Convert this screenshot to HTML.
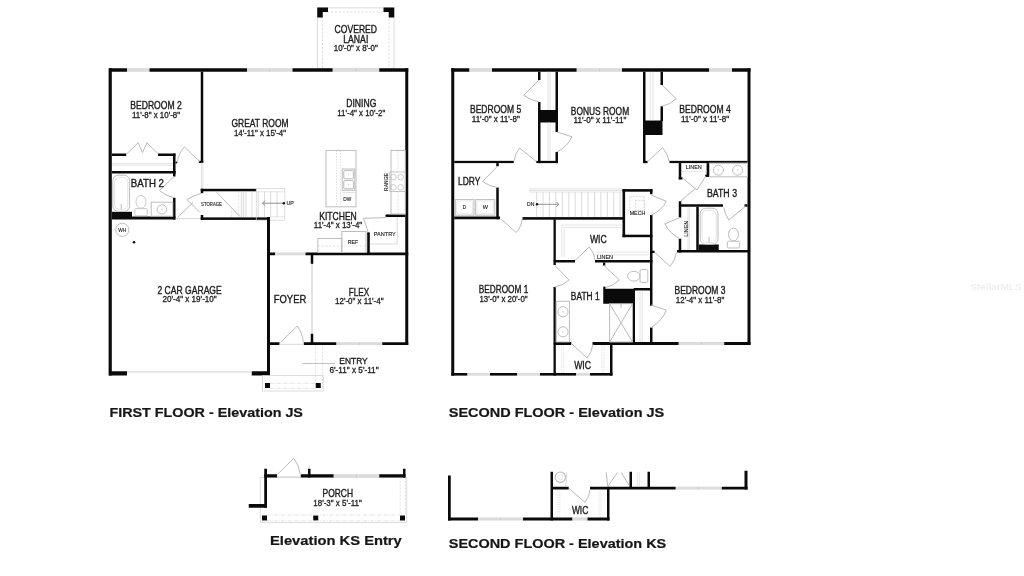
<!DOCTYPE html>
<html><head><meta charset="utf-8"><title>Floor Plan</title>
<style>
html,body{margin:0;padding:0;background:#fff;}
body{width:1024px;height:576px;overflow:hidden;font-family:"Liberation Sans",sans-serif;}
svg{display:block;font-family:"Liberation Sans",sans-serif;filter:blur(0.35px);}
</style></head><body>
<svg width="1024" height="576" viewBox="0 0 1024 576">
<rect width="1024" height="576" fill="#ffffff"/>
<rect x="317.60" y="7.90" width="76.40" height="60.40" rx="0" stroke="#d4d4d4" stroke-width="0.8" fill="none"/>
<path d="M322.5 68 V12 H389 V68" stroke="#cfcfcf" stroke-width="0.7" fill="none" stroke-dasharray="2.2 1.6"/>
<path d="M317.25 7.5 H328 V12 H322.75 V17.5 H317.25 Z" stroke="none" stroke-width="0.8" fill="#0a0a0a"/>
<path d="M394.25 7.5 H383.5 V12 H388.75 V17.5 H394.25 Z" stroke="none" stroke-width="0.8" fill="#0a0a0a"/>
<rect x="109.00" y="68.25" width="18.00" height="3.50" fill="#0a0a0a"/>
<rect x="127.00" y="68.15" width="22.50" height="3.70" fill="#dcdcdc"/>
<rect x="149.50" y="68.25" width="97.50" height="3.50" fill="#0a0a0a"/>
<rect x="247.00" y="68.15" width="45.50" height="3.70" fill="#dcdcdc"/>
<rect x="292.50" y="68.25" width="40.25" height="3.50" fill="#0a0a0a"/>
<rect x="332.75" y="68.15" width="46.50" height="3.70" fill="#dcdcdc"/>
<rect x="379.25" y="68.25" width="29.00" height="3.50" fill="#0a0a0a"/>
<path d="M269.7 68.6 V71.4 M356 68.6 V71.4" stroke="#bdbdbd" stroke-width="0.6" fill="none"/>
<rect x="108.60" y="68.25" width="3.20" height="307.25" fill="#0a0a0a"/>
<rect x="405.25" y="68.25" width="3.00" height="276.75" fill="#0a0a0a"/>
<rect x="200.75" y="71.75" width="2.50" height="91.25" fill="#0a0a0a"/>
<rect x="198.80" y="160.80" width="4.45" height="2.20" fill="#0a0a0a"/>
<rect x="201.30" y="163.00" width="1.60" height="26.00" rx="0" stroke="#d0d0d0" stroke-width="0.6" fill="none"/>
<rect x="112.00" y="153.50" width="14.25" height="2.50" fill="#0a0a0a"/>
<rect x="158.00" y="153.50" width="17.50" height="2.50" fill="#0a0a0a"/>
<rect x="173.00" y="153.50" width="2.50" height="20.00" fill="#0a0a0a"/>
<rect x="175.50" y="161.60" width="1.80" height="1.80" fill="#0a0a0a"/>
<path d="M112 163.6 H173 M112 165.2 H173" stroke="#d0d0d0" stroke-width="0.6" fill="none"/>
<path d="M126.9 153.75 L138.1 142.8 L142.5 152.5 L146.9 142.8 L158.1 153.75" stroke="#bababa" stroke-width="1.0" fill="none"/>
<rect x="112.00" y="171.00" width="63.50" height="2.50" fill="#0a0a0a"/>
<rect x="173.00" y="171.00" width="2.50" height="5.50" fill="#0a0a0a"/>
<rect x="173.00" y="197.75" width="2.50" height="21.75" fill="#0a0a0a"/>
<rect x="112.00" y="216.50" width="63.50" height="3.00" fill="#0a0a0a"/>
<rect x="112.00" y="211.80" width="20.00" height="5.20" fill="#0a0a0a"/>
<rect x="112.80" y="175.20" width="16.80" height="36.20" rx="5.5" stroke="#bababa" stroke-width="0.95" fill="none"/>
<rect x="114.60" y="177.40" width="13.20" height="32.00" rx="5" stroke="#d6d6d6" stroke-width="0.7" fill="none"/>
<path d="M121.2 204 V209" stroke="#bababa" stroke-width="1.0" fill="none"/>
<ellipse cx="141" cy="201.8" rx="5" ry="6.4" stroke="#bababa" stroke-width="0.8" fill="#fff"/>
<rect x="134.80" y="208.60" width="12.40" height="7.20" rx="1.2" stroke="#bababa" stroke-width="0.8" fill="#fff"/>
<rect x="151.20" y="202.20" width="21.60" height="14.00" rx="0" stroke="#bababa" stroke-width="0.95" fill="none"/>
<circle cx="161.9" cy="209.4" r="4.7" stroke="#bababa" stroke-width="0.95" fill="none"/>
<circle cx="161.9" cy="209.4" r="0.6" stroke="#bababa" stroke-width="0.5" fill="none"/>
<path d="M174 176.5 L159.5 190.5 Q166 196.5 174 197.5" stroke="#bababa" stroke-width="1.0" fill="none"/>
<path d="M199.5 161.5 L184.5 147 Q178.5 153 177.5 161.5" stroke="#bababa" stroke-width="1.0" fill="none"/>
<path d="M175.5 218.6 H200.75" stroke="#cfcfcf" stroke-width="0.8" fill="none"/>
<path d="M177.5 217.5 L193 202.5 M187 199.5 L200 212.5 M187 199.5 Q194 195 201 193.5" stroke="#bababa" stroke-width="1.0" fill="none"/>
<rect x="200.75" y="188.80" width="55.50" height="2.50" fill="#0a0a0a"/>
<rect x="200.75" y="188.80" width="2.50" height="4.40" fill="#0a0a0a"/>
<rect x="200.75" y="215.00" width="2.50" height="4.90" fill="#0a0a0a"/>
<rect x="200.75" y="217.40" width="69.25" height="2.50" fill="#0a0a0a"/>
<rect x="256.25" y="188.60" width="28.55" height="31.60" rx="0" stroke="#d0d0d0" stroke-width="0.7" fill="none"/>
<path d="M256.25 191.8 H284.8 M270 216.8 H284.8" stroke="#d0d0d0" stroke-width="0.6" fill="none"/>
<path d="M216.7 192.3 L239.7 216.3" stroke="#bababa" stroke-width="1.0" fill="none"/>
<path d="M231.3 207.5 V216.8 M238.7 191.8 V214.5" stroke="#d0d0d0" stroke-width="0.6" fill="none" stroke-dasharray="2 1.5"/>
<path d="M241.4 191.5 V217 M243.6 191.5 V217 M246 191.5 V217" stroke="#cdcdcd" stroke-width="0.7" fill="none"/>
<path d="M252 191.5 V217 M258.2 191.5 V217 M264.5 191.5 V217 M270.7 191.5 V217 M277 191.5 V217" stroke="#cdcdcd" stroke-width="0.7" fill="none"/>
<path d="M283.8 203.2 H262.5 M265 200.7 L262.5 203.2 L265 205.7" stroke="#777" stroke-width="0.8" fill="none"/>
<circle cx="283.9" cy="203.2" r="1.2" stroke="none" stroke-width="0.8" fill="#111"/>
<text x="290.20" y="205.00" font-size="4.75" text-anchor="middle" textLength="7.40" lengthAdjust="spacingAndGlyphs" font-weight="normal" fill="#1c1c1c" stroke="#1c1c1c" stroke-width="0.119">UP</text>
<text x="211.50" y="205.88" font-size="5.24" text-anchor="middle" textLength="20.80" lengthAdjust="spacingAndGlyphs" font-weight="normal" fill="#1c1c1c" stroke="#1c1c1c" stroke-width="0.131">STORAGE</text>
<rect x="267.00" y="217.00" width="3.00" height="158.50" fill="#0a0a0a"/>
<rect x="109.00" y="371.25" width="18.00" height="4.25" fill="#0a0a0a"/>
<rect x="251.75" y="371.25" width="18.25" height="4.25" fill="#0a0a0a"/>
<path d="M127 371.9 H251.75" stroke="#c6c6c6" stroke-width="0.8" fill="none"/>
<circle cx="122.3" cy="229.8" r="6.6" stroke="#bababa" stroke-width="0.95" fill="none"/>
<text x="122.30" y="231.60" font-size="4.75" text-anchor="middle" textLength="8.00" lengthAdjust="spacingAndGlyphs" font-weight="normal" fill="#1c1c1c" stroke="#1c1c1c" stroke-width="0.119">WH</text>
<circle cx="134" cy="242.3" r="1.3" stroke="none" stroke-width="0.8" fill="#111"/>
<rect x="270.00" y="252.50" width="5.00" height="2.75" fill="#0a0a0a"/>
<rect x="275.00" y="252.40" width="30.50" height="2.95" fill="#dcdcdc"/>
<rect x="305.50" y="252.50" width="102.75" height="2.75" fill="#0a0a0a"/>
<rect x="310.75" y="255.00" width="2.50" height="9.00" fill="#0a0a0a"/>
<rect x="311.30" y="264.00" width="1.40" height="69.75" rx="0" stroke="#d0d0d0" stroke-width="0.6" fill="none"/>
<rect x="310.75" y="333.75" width="2.50" height="11.25" fill="#0a0a0a"/>
<rect x="270.00" y="342.25" width="9.50" height="2.75" fill="#0a0a0a"/>
<rect x="303.75" y="342.25" width="32.75" height="2.75" fill="#0a0a0a"/>
<rect x="336.50" y="342.15" width="45.75" height="2.95" fill="#dcdcdc"/>
<rect x="382.25" y="342.25" width="26.00" height="2.75" fill="#0a0a0a"/>
<path d="M359.3 342.6 V344.7" stroke="#bdbdbd" stroke-width="0.6" fill="none"/>
<path d="M279.5 344.3 H303.75" stroke="#cfcfcf" stroke-width="0.8" fill="none"/>
<path d="M280.5 342.3 L297.3 326 Q302.5 333 303.3 342.3" stroke="#bababa" stroke-width="1.0" fill="none"/>
<path d="M386.8 215.75 H405.25" stroke="#0a0a0a" stroke-width="2.6" fill="none"/>
<circle cx="386.6" cy="215.75" r="1.3" stroke="none" stroke-width="0.8" fill="#0a0a0a"/>
<path d="M368.5 233.5 V254" stroke="#0a0a0a" stroke-width="2.6" fill="none"/>
<circle cx="368.5" cy="233.4" r="1.3" stroke="none" stroke-width="0.8" fill="#0a0a0a"/>
<path d="M397.2 217.5 V244 H369.8" stroke="#d0d0d0" stroke-width="0.8" fill="none"/>
<path d="M386 217.6 L363.5 218.3 L368.3 232.5" stroke="#bababa" stroke-width="1.0" fill="none"/>
<text x="384.80" y="235.75" font-size="4.89" text-anchor="middle" textLength="22.00" lengthAdjust="spacingAndGlyphs" font-weight="normal" fill="#1c1c1c" stroke="#1c1c1c" stroke-width="0.123">PANTRY</text>
<rect x="326.00" y="150.40" width="30.00" height="56.40" rx="0" stroke="#bababa" stroke-width="0.95" fill="none"/>
<path d="M336.5 150.4 V206.8 M340.5 150.4 V206.8" stroke="#cfcfcf" stroke-width="0.6" fill="none" stroke-dasharray="1.6 1.2"/>
<rect x="342.30" y="169.00" width="12.50" height="21.30" rx="0" stroke="#bababa" stroke-width="0.95" fill="none"/>
<rect x="343.80" y="170.60" width="9.60" height="8.20" rx="0.8" stroke="#bababa" stroke-width="1.0" fill="none"/>
<rect x="343.80" y="180.60" width="9.60" height="8.20" rx="0.8" stroke="#bababa" stroke-width="1.0" fill="none"/>
<circle cx="348.6" cy="174.8" r="0.5" stroke="#bababa" stroke-width="0.5" fill="none"/>
<circle cx="348.6" cy="184.8" r="0.5" stroke="#bababa" stroke-width="0.5" fill="none"/>
<path d="M342.3 192.5 H356" stroke="#d0d0d0" stroke-width="0.6" fill="none"/>
<text x="347.30" y="200.70" font-size="4.75" text-anchor="middle" textLength="8.00" lengthAdjust="spacingAndGlyphs" font-weight="normal" fill="#1c1c1c" stroke="#1c1c1c" stroke-width="0.119">DW</text>
<rect x="391.00" y="150.40" width="14.30" height="63.60" rx="0" stroke="#bababa" stroke-width="0.95" fill="none"/>
<path d="M398 150.4 V172 M398 191.5 V214" stroke="#cfcfcf" stroke-width="0.6" fill="none" stroke-dasharray="2 1.4"/>
<rect x="389.80" y="172.00" width="15.50" height="19.50" rx="0" stroke="#b8b8b8" stroke-width="0.8" fill="none"/>
<circle cx="393.4" cy="177.1" r="2.8" stroke="#b8b8b8" stroke-width="0.7" fill="none"/>
<circle cx="400.6" cy="177.1" r="2.8" stroke="#b8b8b8" stroke-width="0.7" fill="none"/>
<circle cx="393.4" cy="187.3" r="2.8" stroke="#b8b8b8" stroke-width="0.7" fill="none"/>
<circle cx="400.6" cy="187.3" r="2.8" stroke="#b8b8b8" stroke-width="0.7" fill="none"/>
<text x="386.30" y="183.60" font-size="4.47" text-anchor="middle" textLength="18.00" lengthAdjust="spacingAndGlyphs" font-weight="normal" fill="#1c1c1c" stroke="#1c1c1c" stroke-width="0.112" transform="rotate(-90 386.3 182)">RANGE</text>
<rect x="341.80" y="231.50" width="24.20" height="21.00" rx="0" stroke="#bababa" stroke-width="0.95" fill="none"/>
<rect x="317.80" y="238.50" width="24.00" height="14.00" rx="0" stroke="#bababa" stroke-width="0.95" fill="none"/>
<path d="M317.8 246 H366" stroke="#cfcfcf" stroke-width="0.6" fill="none" stroke-dasharray="2.2 1.6"/>
<text x="353.00" y="244.05" font-size="4.89" text-anchor="middle" textLength="10.50" lengthAdjust="spacingAndGlyphs" font-weight="normal" fill="#1c1c1c" stroke="#1c1c1c" stroke-width="0.123">REF</text>
<rect x="262.60" y="375.50" width="60.60" height="15.50" rx="0" stroke="#d4d4d4" stroke-width="0.8" fill="none"/>
<rect x="265.00" y="383.00" width="5.00" height="5.00" fill="#0a0a0a"/>
<rect x="315.75" y="383.00" width="5.00" height="5.00" fill="#0a0a0a"/>
<path d="M315.75 345 V383 M322.5 345 V388" stroke="#cfcfcf" stroke-width="0.6" fill="none" stroke-dasharray="2 1.4"/>
<path d="M270 383.4 H315.75 M270 388.4 H315.75" stroke="#cfcfcf" stroke-width="0.6" fill="none" stroke-dasharray="3.5 1.2 1 1.2"/>
<path d="M302.5 363.5 H335" stroke="#9a9a9a" stroke-width="0.6" fill="none"/>
<text x="156.00" y="108.85" font-size="10.75" text-anchor="middle" textLength="51.50" lengthAdjust="spacingAndGlyphs" font-weight="normal" fill="#1c1c1c" stroke="#1c1c1c" stroke-width="0.385">BEDROOM 2</text>
<text x="156.00" y="118.00" font-size="8.38" text-anchor="middle" textLength="48.00" lengthAdjust="spacingAndGlyphs" font-weight="normal" fill="#1c1c1c" stroke="#1c1c1c" stroke-width="0.300">11'-8&quot; x 10'-8&quot;</text>
<text x="260.00" y="126.85" font-size="10.75" text-anchor="middle" textLength="57.00" lengthAdjust="spacingAndGlyphs" font-weight="normal" fill="#1c1c1c" stroke="#1c1c1c" stroke-width="0.385">GREAT ROOM</text>
<text x="260.00" y="135.50" font-size="8.38" text-anchor="middle" textLength="52.00" lengthAdjust="spacingAndGlyphs" font-weight="normal" fill="#1c1c1c" stroke="#1c1c1c" stroke-width="0.300">14'-11&quot; x 15'-4&quot;</text>
<text x="361.30" y="106.85" font-size="10.75" text-anchor="middle" textLength="30.00" lengthAdjust="spacingAndGlyphs" font-weight="normal" fill="#1c1c1c" stroke="#1c1c1c" stroke-width="0.385">DINING</text>
<text x="361.30" y="116.00" font-size="8.38" text-anchor="middle" textLength="48.00" lengthAdjust="spacingAndGlyphs" font-weight="normal" fill="#1c1c1c" stroke="#1c1c1c" stroke-width="0.300">11'-4&quot; x 10'-2&quot;</text>
<text x="355.80" y="32.85" font-size="10.75" text-anchor="middle" textLength="42.50" lengthAdjust="spacingAndGlyphs" font-weight="normal" fill="#1c1c1c" stroke="#1c1c1c" stroke-width="0.385">COVERED</text>
<text x="355.80" y="42.85" font-size="10.75" text-anchor="middle" textLength="25.00" lengthAdjust="spacingAndGlyphs" font-weight="normal" fill="#1c1c1c" stroke="#1c1c1c" stroke-width="0.385">LANAI</text>
<text x="355.80" y="51.30" font-size="8.38" text-anchor="middle" textLength="44.00" lengthAdjust="spacingAndGlyphs" font-weight="normal" fill="#1c1c1c" stroke="#1c1c1c" stroke-width="0.300">10'-0&quot; x 8'-0&quot;</text>
<text x="147.40" y="186.90" font-size="10.06" text-anchor="middle" textLength="33.20" lengthAdjust="spacingAndGlyphs" font-weight="normal" fill="#1c1c1c" stroke="#1c1c1c" stroke-width="0.360">BATH 2</text>
<text x="338.00" y="220.00" font-size="11.17" text-anchor="middle" textLength="37.50" lengthAdjust="spacingAndGlyphs" font-weight="normal" fill="#1c1c1c" stroke="#1c1c1c" stroke-width="0.400">KITCHEN</text>
<text x="338.00" y="228.40" font-size="8.66" text-anchor="middle" textLength="48.30" lengthAdjust="spacingAndGlyphs" font-weight="normal" fill="#1c1c1c" stroke="#1c1c1c" stroke-width="0.310">11'-4&quot; x 13'-4&quot;</text>
<text x="189.60" y="293.85" font-size="10.75" text-anchor="middle" textLength="64.30" lengthAdjust="spacingAndGlyphs" font-weight="normal" fill="#1c1c1c" stroke="#1c1c1c" stroke-width="0.385">2 CAR GARAGE</text>
<text x="189.60" y="301.60" font-size="8.38" text-anchor="middle" textLength="54.30" lengthAdjust="spacingAndGlyphs" font-weight="normal" fill="#1c1c1c" stroke="#1c1c1c" stroke-width="0.300">20'-4&quot; x 19'-10&quot;</text>
<text x="290.00" y="303.10" font-size="10.61" text-anchor="middle" textLength="32.50" lengthAdjust="spacingAndGlyphs" font-weight="normal" fill="#1c1c1c" stroke="#1c1c1c" stroke-width="0.380">FOYER</text>
<text x="359.00" y="295.60" font-size="10.61" text-anchor="middle" textLength="20.50" lengthAdjust="spacingAndGlyphs" font-weight="normal" fill="#1c1c1c" stroke="#1c1c1c" stroke-width="0.380">FLEX</text>
<text x="359.30" y="303.60" font-size="8.38" text-anchor="middle" textLength="48.50" lengthAdjust="spacingAndGlyphs" font-weight="normal" fill="#1c1c1c" stroke="#1c1c1c" stroke-width="0.300">12'-0&quot; x 11'-4&quot;</text>
<text x="353.50" y="364.35" font-size="9.64" text-anchor="middle" textLength="28.30" lengthAdjust="spacingAndGlyphs" font-weight="normal" fill="#1c1c1c" stroke="#1c1c1c" stroke-width="0.345">ENTRY</text>
<text x="354.00" y="373.35" font-size="8.24" text-anchor="middle" textLength="49.20" lengthAdjust="spacingAndGlyphs" font-weight="normal" fill="#1c1c1c" stroke="#1c1c1c" stroke-width="0.295">6'-11&quot; x 5'-11&quot;</text>
<text x="206.20" y="417.15" font-size="12.71" text-anchor="middle" textLength="193.50" lengthAdjust="spacingAndGlyphs" font-weight="bold" fill="#161616" stroke="#161616" stroke-width="0.200">FIRST FLOOR - Elevation JS</text>
<rect x="451.25" y="68.25" width="18.25" height="3.50" fill="#0a0a0a"/>
<rect x="469.50" y="68.15" width="22.50" height="3.70" fill="#dcdcdc"/>
<rect x="492.00" y="68.25" width="84.75" height="3.50" fill="#0a0a0a"/>
<rect x="576.75" y="68.15" width="45.25" height="3.70" fill="#dcdcdc"/>
<rect x="622.00" y="68.25" width="87.25" height="3.50" fill="#0a0a0a"/>
<rect x="709.25" y="68.15" width="22.75" height="3.70" fill="#dcdcdc"/>
<rect x="732.00" y="68.25" width="18.50" height="3.50" fill="#0a0a0a"/>
<path d="M599.4 68.6 V71.4" stroke="#bdbdbd" stroke-width="0.6" fill="none"/>
<rect x="451.25" y="68.25" width="3.00" height="307.35" fill="#0a0a0a"/>
<rect x="747.50" y="68.25" width="3.00" height="276.75" fill="#0a0a0a"/>
<rect x="451.25" y="373.00" width="16.25" height="2.60" fill="#0a0a0a"/>
<rect x="467.50" y="372.90" width="22.50" height="2.80" fill="#dcdcdc"/>
<rect x="490.00" y="373.00" width="27.00" height="2.60" fill="#0a0a0a"/>
<rect x="517.00" y="372.90" width="23.00" height="2.80" fill="#dcdcdc"/>
<rect x="540.00" y="373.00" width="36.25" height="2.60" fill="#0a0a0a"/>
<rect x="576.25" y="372.90" width="13.75" height="2.80" fill="#dcdcdc"/>
<rect x="590.00" y="373.00" width="22.50" height="2.60" fill="#0a0a0a"/>
<rect x="592.50" y="342.00" width="86.25" height="3.00" fill="#0a0a0a"/>
<rect x="678.75" y="341.90" width="45.50" height="3.20" fill="#dcdcdc"/>
<rect x="724.25" y="342.00" width="26.25" height="3.00" fill="#0a0a0a"/>
<path d="M701.5 342.4 V344.6" stroke="#bdbdbd" stroke-width="0.6" fill="none"/>
<rect x="610.00" y="343.00" width="2.50" height="32.60" fill="#0a0a0a"/>
<rect x="538.00" y="71.75" width="2.50" height="8.25" fill="#0a0a0a"/>
<rect x="538.00" y="102.00" width="2.50" height="61.10" fill="#0a0a0a"/>
<rect x="555.50" y="71.75" width="2.50" height="60.25" fill="#0a0a0a"/>
<rect x="555.50" y="152.00" width="2.50" height="11.10" fill="#0a0a0a"/>
<rect x="538.75" y="110.00" width="18.75" height="12.50" fill="#0a0a0a"/>
<rect x="536.25" y="160.85" width="21.75" height="2.25" fill="#0a0a0a"/>
<path d="M548 71.75 V110 M550 71.75 V110 M548 122.5 V160 M550 122.5 V160" stroke="#d2d2d2" stroke-width="0.6" fill="none"/>
<rect x="454.25" y="160.85" width="59.50" height="2.25" fill="#0a0a0a"/>
<path d="M539 80 L523.7 95.3 Q531 100.5 539 102" stroke="#bababa" stroke-width="1.0" fill="none"/>
<path d="M557 132 L572 136.8 Q568 146 557 152" stroke="#bababa" stroke-width="1.0" fill="none"/>
<path d="M536.3 161.5 L519.7 148.2 Q514.5 153.7 514.2 160.8" stroke="#bababa" stroke-width="1.0" fill="none"/>
<rect x="496.25" y="163.10" width="2.50" height="3.10" fill="#0a0a0a"/>
<rect x="496.25" y="187.50" width="2.50" height="31.75" fill="#0a0a0a"/>
<rect x="454.25" y="216.50" width="45.75" height="2.75" fill="#0a0a0a"/>
<path d="M497.5 166.2 L482.5 181.5 Q489.5 186.5 497.5 187.5" stroke="#bababa" stroke-width="1.0" fill="none"/>
<rect x="455.30" y="199.60" width="18.70" height="15.60" rx="0" stroke="#bababa" stroke-width="0.95" fill="none"/>
<rect x="475.60" y="199.60" width="19.20" height="15.60" rx="0" stroke="#bababa" stroke-width="0.95" fill="none"/>
<rect x="456.80" y="201.00" width="15.80" height="12.80" rx="0" stroke="#dcdcdc" stroke-width="0.6" fill="none"/>
<rect x="477.00" y="201.00" width="16.40" height="12.80" rx="0" stroke="#dcdcdc" stroke-width="0.6" fill="none"/>
<text x="464.40" y="209.15" font-size="5.17" text-anchor="middle" textLength="3.30" lengthAdjust="spacingAndGlyphs" font-weight="normal" fill="#1c1c1c" stroke="#1c1c1c" stroke-width="0.130">D</text>
<text x="485.40" y="209.15" font-size="5.17" text-anchor="middle" textLength="5.20" lengthAdjust="spacingAndGlyphs" font-weight="normal" fill="#1c1c1c" stroke="#1c1c1c" stroke-width="0.130">W</text>
<path d="M501.2 219.3 L516.2 232.5 Q521.3 227 522.2 219" stroke="#bababa" stroke-width="1.0" fill="none"/>
<rect x="522.50" y="217.10" width="101.25" height="2.60" fill="#0a0a0a"/>
<path d="M530 188.9 H622.5 M530 190.5 H622.5 M530 192.1 H622.5 M530 188.9 V192.1" stroke="#d0d0d0" stroke-width="0.6" fill="none"/>
<path d="M536.60 192.1 V217.1 M543.03 192.1 V217.1 M549.46 192.1 V217.1 M555.89 192.1 V217.1 M562.32 192.1 V217.1 M568.75 192.1 V217.1 M575.18 192.1 V217.1 M581.61 192.1 V217.1 M588.04 192.1 V217.1 M594.47 192.1 V217.1 M600.90 192.1 V217.1 M607.33 192.1 V217.1 M613.76 192.1 V217.1 M620.19 192.1 V217.1 " stroke="#cdcdcd" stroke-width="0.7" fill="none"/>
<path d="M537 204.3 H558.6 M556.2 201.8 L558.7 204.3 L556.2 206.8" stroke="#777" stroke-width="0.8" fill="none"/>
<circle cx="537" cy="204.3" r="1.2" stroke="none" stroke-width="0.8" fill="#111"/>
<text x="530.70" y="205.95" font-size="4.61" text-anchor="middle" textLength="7.40" lengthAdjust="spacingAndGlyphs" font-weight="normal" fill="#1c1c1c" stroke="#1c1c1c" stroke-width="0.116">DN</text>
<rect x="622.50" y="189.10" width="30.00" height="2.60" fill="#0a0a0a"/>
<rect x="622.50" y="189.10" width="2.60" height="48.10" fill="#0a0a0a"/>
<rect x="622.50" y="234.70" width="30.00" height="2.50" fill="#0a0a0a"/>
<rect x="650.00" y="189.10" width="2.50" height="5.10" fill="#0a0a0a"/>
<rect x="650.00" y="215.00" width="2.50" height="90.80" fill="#0a0a0a"/>
<rect x="650.00" y="327.50" width="2.50" height="17.50" fill="#0a0a0a"/>
<rect x="629.90" y="196.50" width="14.50" height="13.90" rx="0" stroke="#d0d0d0" stroke-width="0.7" fill="none" stroke-dasharray="2 1"/>
<rect x="635.60" y="200.40" width="8.80" height="10.00" rx="0" stroke="#d0d0d0" stroke-width="0.7" fill="none" stroke-dasharray="2 1"/>
<text x="637.50" y="215.00" font-size="4.75" text-anchor="middle" textLength="15.60" lengthAdjust="spacingAndGlyphs" font-weight="normal" fill="#1c1c1c" stroke="#1c1c1c" stroke-width="0.119">MECH</text>
<path d="M651.2 195 L666.3 201.3 Q662 210.5 651.2 215" stroke="#bababa" stroke-width="1.0" fill="none"/>
<rect x="553.50" y="219.25" width="2.30" height="45.75" fill="#0a0a0a"/>
<rect x="553.50" y="287.00" width="2.30" height="88.60" fill="#0a0a0a"/>
<rect x="553.75" y="260.00" width="21.25" height="2.50" fill="#0a0a0a"/>
<rect x="595.00" y="260.00" width="57.50" height="2.50" fill="#0a0a0a"/>
<path d="M561.8 257 V225 H622.5 M564.2 257 V227.4 H622.5" stroke="#d2d2d2" stroke-width="0.6" fill="none"/>
<path d="M596.2 252.2 H649 M596.2 254.8 H649" stroke="#d2d2d2" stroke-width="0.6" fill="none"/>
<path d="M575 260.6 L589.2 247 Q594.3 252.5 595 260" stroke="#bababa" stroke-width="1.0" fill="none"/>
<text x="598.30" y="242.60" font-size="10.61" text-anchor="middle" textLength="16.80" lengthAdjust="spacingAndGlyphs" font-weight="normal" fill="#1c1c1c" stroke="#1c1c1c" stroke-width="0.380">WIC</text>
<text x="605.00" y="258.75" font-size="4.89" text-anchor="middle" textLength="16.00" lengthAdjust="spacingAndGlyphs" font-weight="normal" fill="#1c1c1c" stroke="#1c1c1c" stroke-width="0.123">LINEN</text>
<rect x="603.00" y="262.50" width="2.30" height="3.10" fill="#0a0a0a"/>
<path d="M555 265.5 L569 280 Q563 285.5 555 287" stroke="#bababa" stroke-width="1.0" fill="none"/>
<path d="M604 265.6 L619.5 280 Q613 286 604.5 288" stroke="#bababa" stroke-width="1.0" fill="none"/>
<rect x="603.25" y="288.75" width="30.75" height="15.00" fill="#0a0a0a"/>
<rect x="603.25" y="286.60" width="2.05" height="2.40" fill="#0a0a0a"/>
<rect x="633.75" y="288.00" width="17.50" height="2.50" fill="#0a0a0a"/>
<rect x="632.50" y="290.00" width="2.50" height="53.00" fill="#0a0a0a"/>
<rect x="553.75" y="342.00" width="17.50" height="3.00" fill="#0a0a0a"/>
<rect x="640.00" y="269.60" width="7.80" height="12.80" rx="1.2" stroke="#bababa" stroke-width="0.95" fill="none"/>
<ellipse cx="633.8" cy="276.2" rx="6.2" ry="4.9" stroke="#bababa" stroke-width="0.95" fill="none"/>
<rect x="556.25" y="301.30" width="13.15" height="40.70" rx="0" stroke="#bababa" stroke-width="0.95" fill="none"/>
<circle cx="563" cy="311.8" r="5.1" stroke="#bababa" stroke-width="0.95" fill="none"/>
<circle cx="563" cy="331.8" r="5.1" stroke="#bababa" stroke-width="0.95" fill="none"/>
<circle cx="563" cy="311.8" r="0.5" stroke="#bababa" stroke-width="0.5" fill="none"/>
<circle cx="563" cy="331.8" r="0.5" stroke="#bababa" stroke-width="0.5" fill="none"/>
<rect x="609.60" y="303.75" width="22.90" height="38.25" rx="0" stroke="#bababa" stroke-width="0.95" fill="none"/>
<path d="M609.6 303.75 L632.5 342 M632.5 303.75 L609.6 342 M621 303.75 V308" stroke="#bababa" stroke-width="1.0" fill="none"/>
<path d="M640 290.5 V342 M642.2 290.5 V342" stroke="#d2d2d2" stroke-width="0.6" fill="none"/>
<path d="M651.2 305 L666.3 310 Q663 320 651.2 327.5" stroke="#bababa" stroke-width="1.0" fill="none"/>
<path d="M571.6 343.8 L587.2 358.1 Q591.8 352 593 344.4" stroke="#bababa" stroke-width="1.0" fill="none"/>
<path d="M561.8 345 V373 M563.8 345 V373 M602 345 V373 M604 345 V373" stroke="#d2d2d2" stroke-width="0.6" fill="none" stroke-dasharray="1.4 1"/>
<text x="582.60" y="368.80" font-size="10.61" text-anchor="middle" textLength="16.80" lengthAdjust="spacingAndGlyphs" font-weight="normal" fill="#1c1c1c" stroke="#1c1c1c" stroke-width="0.380">WIC</text>
<rect x="643.00" y="71.75" width="2.50" height="91.35" fill="#0a0a0a"/>
<rect x="643.00" y="160.85" width="4.60" height="2.25" fill="#0a0a0a"/>
<rect x="660.50" y="71.75" width="2.50" height="13.25" fill="#0a0a0a"/>
<rect x="660.50" y="106.25" width="2.50" height="14.75" fill="#0a0a0a"/>
<rect x="643.75" y="120.50" width="18.75" height="14.50" fill="#0a0a0a"/>
<path d="M650.2 71.75 V120.5 M653 71.75 V120.5" stroke="#d2d2d2" stroke-width="0.6" fill="none"/>
<path d="M662 85 L676.2 98.8 Q670.5 104.5 662 106.2" stroke="#bababa" stroke-width="1.0" fill="none"/>
<path d="M647.6 161.7 L662.5 147.7 Q668 153.7 669 161.2" stroke="#bababa" stroke-width="1.0" fill="none"/>
<rect x="669.50" y="160.85" width="78.00" height="2.25" fill="#0a0a0a"/>
<rect x="678.75" y="163.10" width="2.50" height="16.30" fill="#0a0a0a"/>
<rect x="678.75" y="177.00" width="3.85" height="2.40" fill="#0a0a0a"/>
<rect x="706.60" y="163.10" width="2.50" height="13.70" fill="#0a0a0a"/>
<rect x="705.20" y="174.60" width="3.90" height="2.20" fill="#0a0a0a"/>
<path d="M681.25 171.6 H707" stroke="#d6d6d6" stroke-width="0.6" fill="none"/>
<path d="M681.5 177.2 L697 190 L705.5 176.5" stroke="#bababa" stroke-width="1.0" fill="none"/>
<text x="693.80" y="169.35" font-size="4.89" text-anchor="middle" textLength="16.00" lengthAdjust="spacingAndGlyphs" font-weight="normal" fill="#1c1c1c" stroke="#1c1c1c" stroke-width="0.123">LINEN</text>
<rect x="709.50" y="163.10" width="38.00" height="13.70" rx="0" stroke="#bababa" stroke-width="0.95" fill="none"/>
<circle cx="718.4" cy="170.2" r="5.0" stroke="#bababa" stroke-width="0.95" fill="none"/>
<circle cx="737.6" cy="170.2" r="5.0" stroke="#bababa" stroke-width="0.95" fill="none"/>
<circle cx="718.4" cy="170.2" r="0.5" stroke="#bababa" stroke-width="0.5" fill="none"/>
<circle cx="737.6" cy="170.2" r="0.5" stroke="#bababa" stroke-width="0.5" fill="none"/>
<path d="M680.5 201.3 L696 188" stroke="#bababa" stroke-width="1.0" fill="none"/>
<rect x="679.50" y="204.25" width="43.50" height="2.50" fill="#0a0a0a"/>
<rect x="744.50" y="204.25" width="3.00" height="2.50" fill="#0a0a0a"/>
<rect x="678.75" y="201.25" width="2.50" height="16.25" fill="#0a0a0a"/>
<rect x="678.75" y="238.75" width="2.50" height="13.75" fill="#0a0a0a"/>
<rect x="696.25" y="206.75" width="2.50" height="43.25" fill="#0a0a0a"/>
<rect x="698.75" y="244.50" width="20.00" height="6.00" fill="#0a0a0a"/>
<rect x="677.00" y="250.00" width="71.75" height="2.50" fill="#0a0a0a"/>
<path d="M688 206.75 V250 M689.6 206.75 V250" stroke="#d2d2d2" stroke-width="0.6" fill="none"/>
<path d="M680 217.5 L664.8 223.8 Q669.5 233.5 680 238.75" stroke="#bababa" stroke-width="1.0" fill="none"/>
<text x="685.80" y="230.55" font-size="4.89" text-anchor="middle" textLength="16.00" lengthAdjust="spacingAndGlyphs" font-weight="normal" fill="#1c1c1c" stroke="#1c1c1c" stroke-width="0.123" transform="rotate(-90 685.8 228.8)">LINEN</text>
<rect x="700.20" y="208.20" width="17.80" height="36.10" rx="5.5" stroke="#bababa" stroke-width="0.95" fill="none"/>
<rect x="702.00" y="210.20" width="14.20" height="32.20" rx="5" stroke="#d6d6d6" stroke-width="0.7" fill="none"/>
<path d="M709 237 V242.4" stroke="#bababa" stroke-width="1.0" fill="none"/>
<path d="M745.6 206.2 L728.8 220 Q724.5 213.5 723.8 207.5" stroke="#bababa" stroke-width="1.0" fill="none"/>
<ellipse cx="733.5" cy="234.5" rx="5" ry="6.4" stroke="#bababa" stroke-width="0.95" fill="none"/>
<rect x="727.40" y="241.20" width="12.20" height="6.80" rx="1.2" stroke="#bababa" stroke-width="0.95" fill="none"/>
<rect x="651.25" y="250.75" width="3.35" height="2.25" fill="#0a0a0a"/>
<path d="M654.8 252.6 L670 266.3 Q675.5 260.5 676.3 252.8" stroke="#bababa" stroke-width="1.0" fill="none"/>
<text x="495.60" y="113.15" font-size="10.75" text-anchor="middle" textLength="51.30" lengthAdjust="spacingAndGlyphs" font-weight="normal" fill="#1c1c1c" stroke="#1c1c1c" stroke-width="0.385">BEDROOM 5</text>
<text x="495.80" y="121.80" font-size="8.38" text-anchor="middle" textLength="48.00" lengthAdjust="spacingAndGlyphs" font-weight="normal" fill="#1c1c1c" stroke="#1c1c1c" stroke-width="0.300">11'-0&quot; x 11'-8&quot;</text>
<text x="600.00" y="114.65" font-size="10.75" text-anchor="middle" textLength="58.30" lengthAdjust="spacingAndGlyphs" font-weight="normal" fill="#1c1c1c" stroke="#1c1c1c" stroke-width="0.385">BONUS ROOM</text>
<text x="600.00" y="123.00" font-size="8.38" text-anchor="middle" textLength="53.00" lengthAdjust="spacingAndGlyphs" font-weight="normal" fill="#1c1c1c" stroke="#1c1c1c" stroke-width="0.300">11'-0&quot; x 11'-11&quot;</text>
<text x="705.00" y="113.15" font-size="10.75" text-anchor="middle" textLength="51.50" lengthAdjust="spacingAndGlyphs" font-weight="normal" fill="#1c1c1c" stroke="#1c1c1c" stroke-width="0.385">BEDROOM 4</text>
<text x="705.00" y="121.80" font-size="8.38" text-anchor="middle" textLength="48.00" lengthAdjust="spacingAndGlyphs" font-weight="normal" fill="#1c1c1c" stroke="#1c1c1c" stroke-width="0.300">11'-0&quot; x 11'-8&quot;</text>
<text x="469.20" y="184.85" font-size="10.75" text-anchor="middle" textLength="22.30" lengthAdjust="spacingAndGlyphs" font-weight="normal" fill="#1c1c1c" stroke="#1c1c1c" stroke-width="0.385">LDRY</text>
<text x="722.00" y="196.80" font-size="10.61" text-anchor="middle" textLength="30.00" lengthAdjust="spacingAndGlyphs" font-weight="normal" fill="#1c1c1c" stroke="#1c1c1c" stroke-width="0.380">BATH 3</text>
<text x="585.20" y="300.10" font-size="10.61" text-anchor="middle" textLength="28.80" lengthAdjust="spacingAndGlyphs" font-weight="normal" fill="#1c1c1c" stroke="#1c1c1c" stroke-width="0.380">BATH 1</text>
<text x="503.50" y="293.15" font-size="10.75" text-anchor="middle" textLength="49.50" lengthAdjust="spacingAndGlyphs" font-weight="normal" fill="#1c1c1c" stroke="#1c1c1c" stroke-width="0.385">BEDROOM 1</text>
<text x="503.50" y="301.80" font-size="8.38" text-anchor="middle" textLength="48.00" lengthAdjust="spacingAndGlyphs" font-weight="normal" fill="#1c1c1c" stroke="#1c1c1c" stroke-width="0.300">13'-0&quot; x 20'-0&quot;</text>
<text x="700.00" y="293.85" font-size="10.75" text-anchor="middle" textLength="51.00" lengthAdjust="spacingAndGlyphs" font-weight="normal" fill="#1c1c1c" stroke="#1c1c1c" stroke-width="0.385">BEDROOM 3</text>
<text x="700.00" y="303.00" font-size="8.38" text-anchor="middle" textLength="48.50" lengthAdjust="spacingAndGlyphs" font-weight="normal" fill="#1c1c1c" stroke="#1c1c1c" stroke-width="0.300">12'-4&quot; x 11'-8&quot;</text>
<text x="556.50" y="417.35" font-size="12.71" text-anchor="middle" textLength="215.50" lengthAdjust="spacingAndGlyphs" font-weight="bold" fill="#161616" stroke="#161616" stroke-width="0.200">SECOND FLOOR - Elevation JS</text>
<rect x="260.20" y="477.50" width="146.60" height="44.90" rx="0" stroke="#d6d6d6" stroke-width="0.8" fill="none"/>
<rect x="264.25" y="474.25" width="12.75" height="3.25" fill="#0a0a0a"/>
<rect x="300.75" y="474.25" width="33.00" height="3.25" fill="#0a0a0a"/>
<rect x="333.75" y="474.15" width="45.50" height="3.45" fill="#dcdcdc"/>
<rect x="379.25" y="474.25" width="26.25" height="3.25" fill="#0a0a0a"/>
<path d="M356.5 474.6 V477.2" stroke="#bdbdbd" stroke-width="0.6" fill="none"/>
<path d="M277 476.8 H300.75" stroke="#cfcfcf" stroke-width="0.8" fill="none"/>
<rect x="264.25" y="468.75" width="2.75" height="39.00" fill="#0a0a0a"/>
<rect x="248.75" y="504.00" width="18.25" height="3.75" fill="#0a0a0a"/>
<rect x="308.00" y="468.75" width="2.50" height="8.75" fill="#0a0a0a"/>
<rect x="403.00" y="468.75" width="2.50" height="8.75" fill="#0a0a0a"/>
<path d="M309.2 465 V468.75" stroke="#d0d0d0" stroke-width="0.8" fill="none"/>
<path d="M277.5 474.3 L293.8 458.3 Q299 465 300.2 474.3" stroke="#bababa" stroke-width="1.0" fill="none"/>
<rect x="262.00" y="515.50" width="5.00" height="5.00" fill="#0a0a0a"/>
<rect x="313.25" y="515.50" width="5.00" height="5.00" fill="#0a0a0a"/>
<rect x="400.00" y="515.50" width="5.00" height="5.00" fill="#0a0a0a"/>
<path d="M267 515 H400 M267 520.8 H400" stroke="#cfcfcf" stroke-width="0.6" fill="none" stroke-dasharray="3.5 1.2 1 1.2"/>
<path d="M400.2 477.5 V515.5 M405.5 477.5 V515.5" stroke="#cfcfcf" stroke-width="0.6" fill="none" stroke-dasharray="2 1.4"/>
<text x="337.80" y="496.70" font-size="10.34" text-anchor="middle" textLength="30.50" lengthAdjust="spacingAndGlyphs" font-weight="normal" fill="#1c1c1c" stroke="#1c1c1c" stroke-width="0.370">PORCH</text>
<text x="337.50" y="505.50" font-size="8.38" text-anchor="middle" textLength="48.50" lengthAdjust="spacingAndGlyphs" font-weight="normal" fill="#1c1c1c" stroke="#1c1c1c" stroke-width="0.300">18'-3&quot; x 5'-11&quot;</text>
<text x="335.90" y="544.95" font-size="12.99" text-anchor="middle" textLength="131.80" lengthAdjust="spacingAndGlyphs" font-weight="bold" fill="#161616" stroke="#161616" stroke-width="0.200">Elevation KS Entry</text>
<rect x="448.00" y="475.50" width="2.75" height="45.00" fill="#0a0a0a"/>
<rect x="448.00" y="517.50" width="30.00" height="3.00" fill="#0a0a0a"/>
<rect x="478.00" y="517.40" width="45.00" height="3.20" fill="#dcdcdc"/>
<rect x="523.00" y="517.50" width="49.50" height="3.00" fill="#0a0a0a"/>
<rect x="572.50" y="517.40" width="15.00" height="3.20" fill="#dcdcdc"/>
<rect x="587.50" y="517.50" width="22.00" height="3.00" fill="#0a0a0a"/>
<path d="M500.5 517.9 V520.1" stroke="#bdbdbd" stroke-width="0.6" fill="none"/>
<rect x="550.50" y="471.75" width="2.50" height="48.75" fill="#0a0a0a"/>
<rect x="553.00" y="486.75" width="15.75" height="2.75" fill="#0a0a0a"/>
<rect x="590.00" y="486.75" width="85.75" height="2.75" fill="#0a0a0a"/>
<rect x="675.75" y="486.65" width="46.00" height="2.95" fill="#dcdcdc"/>
<rect x="721.75" y="486.75" width="25.75" height="2.75" fill="#0a0a0a"/>
<path d="M698.5 487.1 V489.1" stroke="#bdbdbd" stroke-width="0.6" fill="none"/>
<rect x="607.00" y="486.75" width="2.50" height="33.75" fill="#0a0a0a"/>
<rect x="629.50" y="471.75" width="2.50" height="15.75" fill="#0a0a0a"/>
<rect x="647.50" y="471.75" width="2.50" height="15.75" fill="#0a0a0a"/>
<rect x="744.50" y="470.75" width="3.00" height="18.75" fill="#0a0a0a"/>
<circle cx="560.3" cy="477.2" r="5.2" stroke="#bababa" stroke-width="1.1" fill="none"/>
<circle cx="560.3" cy="477.2" r="2.6" stroke="#d8d8d8" stroke-width="0.6" fill="none"/>
<path d="M566.6 473 Q567 480 565.6 486" stroke="#cfcfcf" stroke-width="0.8" fill="none"/>
<path d="M568.75 488.2 L585 502.3 Q589.5 497 590 489.5" stroke="#bababa" stroke-width="1.0" fill="none"/>
<path d="M606.3 472.5 L607.6 486.5 L617.5 472.5 M621.3 472.5 L628.8 485" stroke="#bababa" stroke-width="1.0" fill="none"/>
<path d="M637.3 472 V486.75 M639.3 472 V486.75" stroke="#d2d2d2" stroke-width="0.6" fill="none"/>
<path d="M557.8 489.5 V517.5 M559.8 489.5 V517.5 M599 489.5 V517.5 M601 489.5 V517.5" stroke="#d2d2d2" stroke-width="0.6" fill="none" stroke-dasharray="1.4 1"/>
<text x="580.10" y="513.80" font-size="10.61" text-anchor="middle" textLength="16.40" lengthAdjust="spacingAndGlyphs" font-weight="normal" fill="#1c1c1c" stroke="#1c1c1c" stroke-width="0.380">WIC</text>
<text x="557.50" y="548.05" font-size="12.99" text-anchor="middle" textLength="217.50" lengthAdjust="spacingAndGlyphs" font-weight="bold" fill="#161616" stroke="#161616" stroke-width="0.200">SECOND FLOOR - Elevation KS</text>
<text x="996" y="289.5" font-size="9.4" font-weight="bold" text-anchor="middle" textLength="51" lengthAdjust="spacingAndGlyphs" fill="#eeeeee" style="filter:blur(0.5px)">StellarMLS</text>
</svg>
</body></html>
